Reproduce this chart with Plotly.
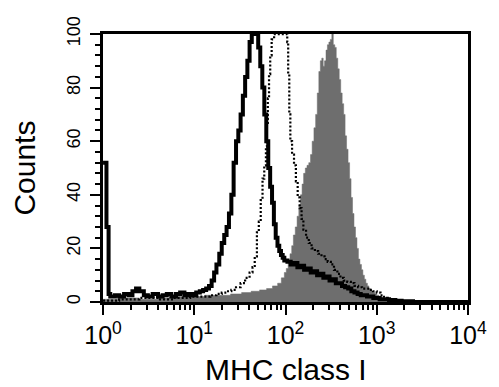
import plotly.graph_objects as go

# ---- data ----
black_x = [1.0, 1.09, 1.15, 1.2, 1.35, 1.5, 1.7, 1.9, 2.1, 2.3, 2.5, 2.8, 3.1, 3.5, 4.0, 4.5, 5.0, 5.6, 6.3, 7.0,
           7.8, 8.6, 9.5, 10.5, 11.5, 12.5, 13.5, 14.5, 15.5, 16.5, 17.5, 18.8, 20.0, 21.3, 22.6, 24.0, 25.5, 27.0,
           28.7, 30.4, 32.2, 34.1, 36.1, 38.2, 40.4, 42.7, 45.1, 47.6, 50.2, 52.9, 55.7, 58.6, 61.6, 64.7, 67.9,
           71.2, 74.6, 78.1, 81.7, 85.4, 89.2, 93.1, 97.1, 105, 114, 124, 135, 147, 160, 174, 189, 205, 222, 240,
           260, 281, 304, 329, 356, 385, 416, 450, 487, 527, 570, 617, 668, 723, 783, 848, 918, 994, 1076, 1165,
           1261, 1365, 1478, 1600, 1732, 1875, 2030, 2500, 10000]
black_y = [52, 28, 3, 2, 2.5, 2, 3, 2.5, 4, 5, 4, 2.5, 2, 3, 2, 2.5, 3, 2, 3, 3.5,
           2.5, 3, 2.5, 3.5, 4, 4.5, 5, 6, 8, 11, 14, 18, 22, 25, 28, 33, 40, 52,
           60, 64, 70, 77, 84, 90, 97, 100, 100, 100, 95, 88, 80, 70, 60, 50, 43,
           37, 29, 24, 21, 19, 17.5, 16.5, 15.5, 15, 14, 14.5, 13, 13.5, 12, 12.5, 11, 11.5, 10, 10.5,
           9, 9.5, 8, 8.5, 7, 7, 6, 5.5, 5, 4, 3.5, 3, 2.5, 2.5, 2, 2, 1.5, 1.5, 1, 1,
           1, 0.7, 0.7, 0.5, 0.5, 0.3, 0.3, 0, 0]

dot_x = [1.0, 1.5, 2.5, 4, 6, 9, 12, 15, 17.5, 20.0, 22.6, 25.5, 28.7, 32.2, 36.1, 40.4, 43.5, 46, 48.6, 51,
         53.5, 56, 58.5, 61, 62.5, 64, 66, 68, 70.5, 75, 104.5, 107, 110, 113, 118, 124, 130, 136, 143, 150,
         157, 168, 180, 193, 210, 228, 248, 268, 290, 314, 340, 370, 400, 435, 475, 520, 570, 625, 690, 760,
         830, 910, 1000, 1100, 1200, 1320, 1450, 1600, 1800, 10000]
dot_y = [0.5, 1, 1.5, 1, 1.5, 2, 2, 2.5, 3, 3.5, 4, 4.5, 5.5, 7, 9, 11, 13, 17, 26, 30,
         38, 46, 51, 58, 66, 76, 85, 92, 98, 100, 97, 85, 70, 60, 55, 51, 45, 39, 35, 31,
         27, 24, 22, 20, 19, 18, 17, 16, 15, 14, 12, 10.5, 9, 8, 7.5, 7, 6, 5.5, 5, 5,
         4.5, 4, 3.5, 2.5, 1.5, 1, 0.5, 0.3, 0, 0]

gray_x = [1.0, 1.5, 2.5, 4, 6, 9, 13, 18, 25, 33, 42, 52, 62, 72, 82, 90, 97.1, 102, 107, 112, 117, 122, 128,
          134, 140, 146, 152, 158, 165, 172, 180, 188, 196, 205, 214, 223, 232, 241, 250, 259, 268, 278, 288,
          299, 310, 322, 334, 347, 360, 374, 388, 403, 418, 434, 450, 467, 485, 504, 523, 543, 563, 585, 607,
          630, 654, 680, 705, 732, 760, 790, 820, 850, 885, 920, 955, 1000, 1060, 1130, 1200, 1300, 1400, 1550,
          1700, 1900, 10000]
gray_y = [1, 1.5, 1, 1.5, 2, 2, 2.5, 2.5, 3, 3.5, 4, 4.5, 5, 6, 7, 9, 11, 12.5, 15, 18, 21, 25, 28,
          32, 36, 40, 44, 48, 50, 51, 52, 55, 60, 65, 70, 78, 86, 90, 91, 88, 90, 94, 96,
          97, 98, 100, 96, 95, 91, 87, 83, 78, 74, 70, 62, 57, 52, 46, 39, 33, 28, 24, 20,
          16, 14, 12, 10, 8.5, 7, 6, 5, 4.5, 4, 3.5, 3, 2.5, 2, 1.5, 1.2, 1, 0.7, 0.5,
          0.3, 0, 0]

# tick label text for the decades of the log axis
x_label_alias = {"1": "10<sup>0</sup>", "10": "10<sup>1</sup>", "100": "10<sup>2</sup>",
                 "1000": "10<sup>3</sup>", "10k": "10<sup>4</sup>", "10000": "10<sup>4</sup>"}

FONT = "Arial, Liberation Sans, sans-serif"

fig = go.Figure()
fig.add_trace(go.Scatter(x=gray_x, y=gray_y, mode="lines", line=dict(shape="hv", width=0.5, color="#6e6e6e"),
                         fill="tozeroy", fillcolor="#6e6e6e", hoverinfo="skip"))
fig.add_trace(go.Scatter(x=dot_x, y=dot_y, mode="lines",
                         line=dict(shape="hv", width=2.2, color="black", dash="2px,2px"), hoverinfo="skip"))
fig.add_trace(go.Scatter(x=black_x, y=black_y, mode="lines",
                         line=dict(shape="hv", width=4, color="black"), hoverinfo="skip"))

fig.update_layout(
    width=499, height=387,
    margin=dict(l=103, r=19, t=34, b=85),
    paper_bgcolor="white", plot_bgcolor="white",
    showlegend=False,
    font=dict(family=FONT, color="black"),
)
fig.update_xaxes(
    type="log", range=[-0.0005, 4.0005], tick0=0, dtick=1,
    exponentformat="power", labelalias=x_label_alias, ticklabeloverflow="allow",
    tickfont=dict(size=20, family=FONT, color="black"),
    ticks="outside", ticklen=10, tickwidth=2, tickcolor="black",
    minor=dict(ticks="outside", ticklen=5, tickwidth=1.5, tickcolor="black", showgrid=False),
    showline=True, linewidth=3, linecolor="black", mirror=True,
    showgrid=False, zeroline=False,
)
fig.update_yaxes(
    range=[-0.01, 100.01], tick0=0, dtick=20,
    tickfont=dict(size=18, family=FONT, color="black"), tickangle=-90, ticklabelstandoff=3,
    ticks="outside", ticklen=10, tickwidth=2, tickcolor="black",
    minor=dict(ticks="outside", ticklen=5, tickwidth=1.5, tickcolor="black", dtick=4, showgrid=False),
    showline=True, linewidth=3, linecolor="black", mirror=True,
    showgrid=False, zeroline=False,
)
fig.add_annotation(text="MHC class I", xref="paper", yref="paper", x=0.5, y=-67 / 268,
                   xanchor="center", yanchor="middle", showarrow=False,
                   font=dict(size=30, family=FONT, color="black"))
fig.add_annotation(text="Counts", xref="paper", yref="paper", x=-82 / 377, y=0.5, textangle=-90,
                   xanchor="center", yanchor="middle", showarrow=False,
                   font=dict(size=30, family=FONT, color="black"))

fig.write_html("out.html")
